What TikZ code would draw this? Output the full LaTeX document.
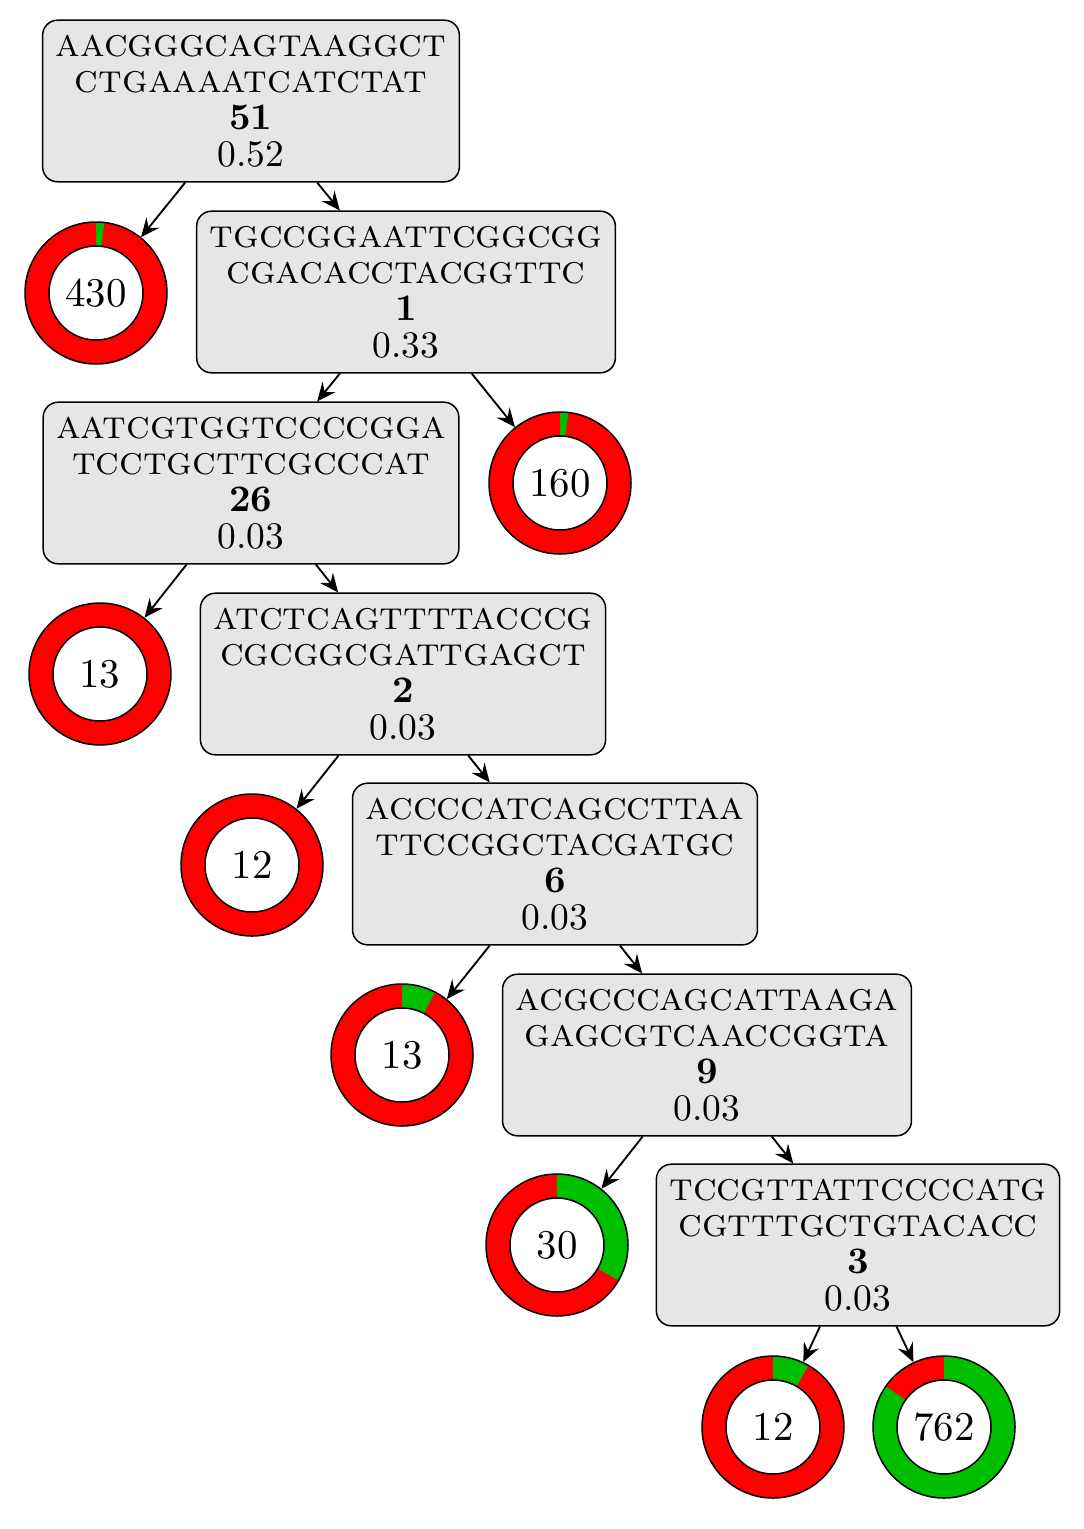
\documentclass[tikz,border=0pt]{standalone}
\usetikzlibrary{arrows.meta}
\definecolor{rd}{RGB}{255,0,0}
\definecolor{gn}{RGB}{0,190,0}
\definecolor{bx}{RGB}{230,230,230}
\newcommand{\seqbox}[6]{%
  \node[seqbox] (#1) at (#2) {{\fontsize{10.7}{9.8}\selectfont\textsc{#3}}\\{\fontsize{10.7}{9.8}\selectfont\textsc{#4}}\\\textbf{#5}\\#6};}
\newcommand{\ringnode}[4]{% name, center, label, green angle (clockwise from top)
  \fill[rd] (#2) circle[radius=71];
  \fill[gn] (#2) -- ++(90:71) arc[start angle=90, end angle={90-#4}, radius=71] -- cycle;
  \draw[fill=white] (#2) circle[radius=47];
  \node[ring] (#1) at (#2) {#3};}
\begin{document}
\begin{tikzpicture}[x=0.2667pt,y=0.2667pt,
  seqbox/.style={draw, fill=bx, rounded corners=4pt, align=center,
    font=\fontsize{10}{9.8}\selectfont, inner xsep=3.5pt, inner ysep=3.9pt},
  ring/.style={circle, draw, minimum size={142*0.2667pt}, inner sep=0pt,
    font=\fontsize{10.9}{13}\selectfont},
  edge/.style={-{Stealth[length=5pt,width=4.4pt,inset=1.8pt]}, line width=0.5pt}]
\useasboundingbox (0,0) rectangle (1083,-1529);
\seqbox{b1}{251,-101}{aacgggcagtaaggct}{ctgaaaatcatctat}{51}{0.52}
\seqbox{b2}{406,-292}{tgccggaattcggcgg}{cgacacctacggttc}{1}{0.33}
\seqbox{b3}{251,-483}{aatcgtggtccccgga}{tcctgcttcgcccat}{26}{0.03}
\seqbox{b4}{403,-674}{atctcagttttacccg}{cgcggcgattgagct}{2}{0.03}
\seqbox{b5}{555,-864}{accccatcagccttaa}{ttccggctacgatgc}{6}{0.03}
\seqbox{b6}{707,-1055}{acgcccagcattaaga}{gagcgtcaaccggta}{9}{0.03}
\seqbox{b7}{858,-1245}{tccgttattccccatg}{cgtttgctgtacacc}{3}{0.03}
\ringnode{d1}{96,-293}{430}{6.7}
\ringnode{d2}{560,-483}{160}{6.75}
\ringnode{d3}{100,-674}{13}{0}
\ringnode{d4}{252,-865}{12}{0}
\ringnode{d5}{402,-1055}{13}{27.7}
\ringnode{d6}{557,-1245}{30}{120}
\ringnode{d7}{773,-1427}{12}{30}
\ringnode{d8}{944,-1427}{762}{305}
\draw[edge] (b1) -- (d1);
\draw[edge] (b1) -- (b2);
\draw[edge] (b2) -- (b3);
\draw[edge] (b2) -- (d2);
\draw[edge] (b3) -- (d3);
\draw[edge] (b3) -- (b4);
\draw[edge] (b4) -- (d4);
\draw[edge] (b4) -- (b5);
\draw[edge] (b5) -- (d5);
\draw[edge] (b5) -- (b6);
\draw[edge] (b6) -- (d6);
\draw[edge] (b6) -- (b7);
\draw[edge] (b7) -- (d7);
\draw[edge] (b7) -- (d8);
\end{tikzpicture}
\end{document}
